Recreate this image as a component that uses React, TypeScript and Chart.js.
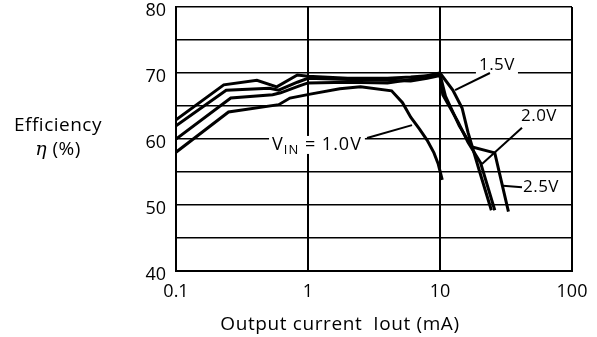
import React, { useEffect, useRef } from 'react';
import { Chart, registerables } from 'chart.js';

Chart.register(...registerables);

// ---- data ----
const xTicks = [0.1, 1, 10, 100];
const yMin = 40;
const yMax = 80;
const yStep = 5;
const yLabelEvery = 10;

const vin10X = [0.1, 0.25, 0.6, 0.73, 1.04, 1.74, 2.5, 4.3, 5.2, 6.0, 7.0, 8.0, 9.0, 9.7, 10.4];
const vin10Y = [58.0, 64.1, 65.2, 66.2, 66.8, 67.6, 67.9, 67.3, 65.5, 63.3, 61.5, 59.8, 57.9, 56.2, 53.8];

const vin15X = [0.1, 0.26, 0.54, 0.62, 0.85, 1.0, 2.0, 4.0, 6.0, 8.0, 10.0, 12.5, 14.7, 16.3, 20.0, 24.5];
const vin15Y = [60.0, 66.2, 66.7, 67.0, 68.0, 68.5, 68.6, 68.5, 69.0, 69.6, 70.0, 67.4, 64.7, 61.0, 55.0, 49.2];

const vin20X = [0.1, 0.24, 0.51, 0.6, 0.83, 1.0, 2.0, 4.0, 6.0, 8.0, 10.0, 10.5, 13.7, 16.3, 20.3, 26.0];
const vin20Y = [62.0, 67.4, 67.7, 67.4, 68.6, 69.2, 69.0, 68.9, 68.8, 69.2, 69.6, 66.7, 62.6, 59.5, 56.4, 49.2];

const vin25X = [0.1, 0.23, 0.41, 0.58, 0.83, 1.0, 2.0, 4.0, 6.0, 8.0, 10.0, 11.0, 14.0, 17.5, 26.0, 33.0];
const vin25Y = [62.9, 68.2, 68.9, 67.9, 69.7, 69.5, 69.2, 69.2, 69.4, 69.6, 69.8, 66.5, 62.0, 58.8, 57.9, 49.0];

const seriesNames = ['1.0V', '1.5V', '2.0V', '2.5V'];
const seriesX = [vin10X, vin15X, vin20X, vin25X];
const seriesY = [vin10Y, vin15Y, vin20Y, vin25Y];

// curve labels (data coordinates: x in mA, y in %)
const labelTexts = ['1.5V', '2.0V', '2.5V', ' = 1.0V'];
const labelPrefix = ['', '', '', 'V'];
const labelSub = ['', '', '', 'IN'];
const labelAlign = ['center', 'center', 'center', 'right'];
const labelX = [27.0, 56.2, 58.2, 2.56];
const labelY = [71.2, 63.4, 52.7, 59.1];
const leaderFrom = [[23.9, 70.0], [41.8, 61.7], [30.0, 52.9], [2.8, 60.15]];
const leaderTo = [[13.0, 67.4], [20.8, 56.2], [41.8, 52.7], [6.14, 62.1]];

const yTitle1 = 'Efficiency';
const yTitleSym = 'η';
const yTitleRest = ' (%)';
const xTitle = 'Output current  Iout (mA)';

const FONT = "'Open Sans', sans-serif";

export default function App() {
  const ref = useRef<HTMLCanvasElement>(null);

  useEffect(() => {
    document.body.style.margin = '0';
    const canvas = ref.current!;

    const setFont = (ctx: CanvasRenderingContext2D, f: string, sp: number) => {
      ctx.font = f;
      (ctx as any).letterSpacing = `${sp}px`;
    };

    const measureLabel = (ctx: CanvasRenderingContext2D, i: number) => {
      const big = labelSub[i] ? 18 : 17;
      const sp = labelSub[i] ? 1 : 0.5;
      setFont(ctx, `${big}px ${FONT}`, sp);
      const wp = ctx.measureText(labelPrefix[i]).width;
      const wt = ctx.measureText(labelTexts[i]).width;
      setFont(ctx, `13px ${FONT}`, sp);
      const ws = ctx.measureText(labelSub[i]).width;
      return { wp, ws, wt, w: wp + ws + wt, big, sp };
    };

    const labelBox = (chart: any, i: number) => {
      const ctx = chart.ctx as CanvasRenderingContext2D;
      const xs = chart.scales.x;
      const ys = chart.scales.y;
      const m = measureLabel(ctx, i);
      const px = xs.getPixelForValue(labelX[i]);
      const py = ys.getPixelForValue(labelY[i]);
      const left = labelAlign[i] === 'right' ? px - m.w : px - m.w / 2;
      return { m, left, py };
    };

    const annot = {
      id: 'annot',
      beforeDatasetsDraw(chart: any) {
        const ctx = chart.ctx as CanvasRenderingContext2D;
        ctx.save();
        for (let i = 0; i < labelTexts.length; i++) {
          const { m, left, py } = labelBox(chart, i);
          ctx.fillStyle = '#fff';
          ctx.fillRect(left - 3, py - 9, m.w + 6, 18);
        }
        ctx.restore();
      },
      afterDatasetsDraw(chart: any) {
        const ctx = chart.ctx as CanvasRenderingContext2D;
        const xs = chart.scales.x;
        const ys = chart.scales.y;
        ctx.save();
        ctx.fillStyle = '#000';
        ctx.strokeStyle = '#000';
        ctx.textBaseline = 'middle';
        ctx.textAlign = 'left';
        for (let i = 0; i < labelTexts.length; i++) {
          const { m, left, py } = labelBox(chart, i);
          let cx = left;
          setFont(ctx, `${m.big}px ${FONT}`, m.sp);
          if (labelPrefix[i]) {
            ctx.fillText(labelPrefix[i], cx, py);
            cx += m.wp;
          }
          if (labelSub[i]) {
            setFont(ctx, `13px ${FONT}`, m.sp);
            ctx.fillText(labelSub[i], cx, py + 5);
            cx += m.ws;
          }
          setFont(ctx, `${m.big}px ${FONT}`, m.sp);
          ctx.fillText(labelTexts[i], cx, py);
          ctx.lineWidth = 2;
          ctx.beginPath();
          ctx.moveTo(xs.getPixelForValue(leaderFrom[i][0]), ys.getPixelForValue(leaderFrom[i][1]));
          ctx.lineTo(xs.getPixelForValue(leaderTo[i][0]), ys.getPixelForValue(leaderTo[i][1]));
          ctx.stroke();
        }
        ctx.restore();
      },
      afterDraw(chart: any) {
        const ctx = chart.ctx as CanvasRenderingContext2D;
        ctx.save();
        ctx.fillStyle = '#000';
        ctx.textBaseline = 'alphabetic';
        ctx.textAlign = 'left';
        const cxY = 58;
        setFont(ctx, `19px ${FONT}`, 0.5);
        const w1 = ctx.measureText(yTitle1).width;
        ctx.fillText(yTitle1, cxY - w1 / 2, 131);
        setFont(ctx, `italic 19px 'DejaVu Serif', serif`, 0.5);
        const ws = ctx.measureText(yTitleSym).width;
        setFont(ctx, `19px ${FONT}`, 0.5);
        const wr = ctx.measureText(yTitleRest).width;
        const start = cxY - (ws + wr) / 2;
        setFont(ctx, `italic 19px 'DejaVu Serif', serif`, 0.5);
        ctx.fillText(yTitleSym, start, 155);
        setFont(ctx, `19px ${FONT}`, 0.5);
        ctx.fillText(yTitleRest, start + ws, 155);
        setFont(ctx, `19px ${FONT}`, 0.6);
        const wx = ctx.measureText(xTitle).width;
        ctx.fillText(xTitle, 340 - wx / 2, 330);
        ctx.restore();
      },
    };

    const chart = new Chart(canvas, {
      type: 'line',
      data: {
        datasets: seriesNames.map((name, k) => ({
          label: name,
          data: seriesX[k].map((x, i) => ({ x, y: seriesY[k][i] })),
          borderColor: '#000',
          backgroundColor: '#000',
          borderWidth: 3,
          pointRadius: 0,
          tension: 0,
          fill: false,
        })),
      },
      options: {
        animation: false,
        responsive: false,
        maintainAspectRatio: false,
        layout: { padding: { left: 0, right: 25, top: 7, bottom: 0 }, autoPadding: false },
        plugins: { legend: { display: false }, tooltip: { enabled: false } },
        scales: {
          x: {
            type: 'logarithmic',
            min: xTicks[0],
            max: xTicks[xTicks.length - 1],
            afterBuildTicks: (s: any) => {
              s.ticks = xTicks.map((v) => ({ value: v }));
            },
            afterFit: (s: any) => {
              s.height = 66;
              s.paddingLeft = 0;
              s.paddingRight = 0;
            },
            ticks: {
              callback: (v: any) => String(v),
              font: { family: FONT, size: 18 },
              color: '#000',
              padding: 10,
              maxRotation: 0,
              autoSkip: false,
            },
            grid: { color: '#000', lineWidth: 2, drawTicks: false },
            border: { color: '#000', width: 2 },
          },
          y: {
            type: 'linear',
            min: yMin,
            max: yMax,
            afterFit: (s: any) => {
              s.width = 176;
              s.paddingTop = 0;
              s.paddingBottom = 0;
            },
            ticks: {
              stepSize: yStep,
              callback: (v: any) => (Number(v) % yLabelEvery === 0 ? String(v) : ''),
              font: { family: FONT, size: 18 },
              color: '#000',
              padding: 10,
              labelOffset: 4,
            },
            grid: { color: '#000', lineWidth: 1.5, drawTicks: false },
            border: { color: '#000', width: 2 },
          },
        },
      },
      plugins: [annot],
    } as any);

    return () => chart.destroy();
  }, []);

  return (
    <div style={{ position: 'fixed', left: 0, top: 0, width: 597, height: 337, background: '#fff' }}>
      <canvas ref={ref} width={597} height={337} style={{ width: 597, height: 337, display: 'block' }} />
    </div>
  );
}
